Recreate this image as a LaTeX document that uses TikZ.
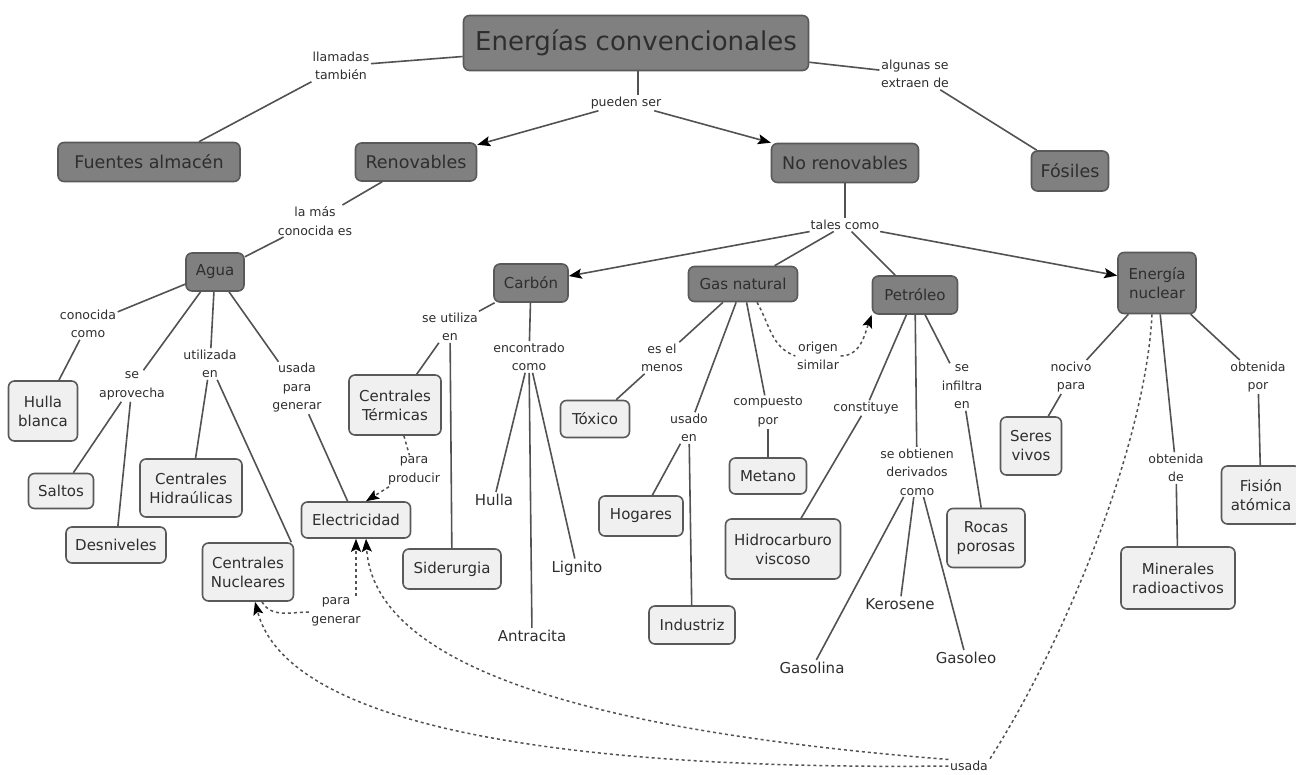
\documentclass[tikz,border=0pt]{standalone}
\usepackage{fontspec}
\setmainfont{DejaVu Sans}
\usepackage{xcolor}
\colorlet{colorDark}{black!50}
\colorlet{colorLight}{black!6}
\colorlet{colorBorder}{black!65}
\colorlet{colorText}{black!82}
\colorlet{colorLink}{black!68}
\usetikzlibrary{arrows, arrows.meta, positioning}
\tikzset{dims/.style 2 args={minimum width=#1, minimum height=#2},
concept/.style={draw=colorBorder, line width=1.6pt, rounded corners=6pt, align=center, text=colorText, inner sep=0pt},
main/.style={concept, fill=colorDark, font=\fontsize{17.5}{21}\selectfont},
sub/.style={concept, fill=colorDark, font=\fontsize{15}{19}\selectfont},
leaf/.style={concept, fill=colorLight, font=\fontsize{15}{19}\selectfont},
word/.style={text=colorText, font=\fontsize{15}{19}\selectfont, inner sep=2pt},
link/.style={text=colorText, align=center, font=\fontsize{12.5}{18.5}\selectfont, inner sep=1.5pt},
conn/.style={draw=colorLink, line width=1.6pt},
dashlink/.style={draw=colorLink, line width=1.5pt, dash pattern=on 3pt off 3pt}}

\begin{document}
\begin{tikzpicture}[x=1pt, y=-1pt, >={Stealth[length=13pt, width=10pt, inset=2.5pt, black]}]
\useasboundingbox (0,0) rectangle (1296,774);
\node[main, dims={345}{55}, font=\fontsize{26}{30}\selectfont] (energias) at (636,43) {Energías convencionales};
\node[main, dims={182}{39}] (fuentes) at (149,162) {Fuentes almacén};
\node[main, dims={121}{38}] (renov) at (416,162) {Renovables};
\node[main, dims={147}{39}] (norenov) at (845,163) {No renovables};
\node[main, dims={77}{40}] (fosiles) at (1070,171) {Fósiles};
\node[sub, dims={58}{38}] (agua) at (215,272) {Agua};
\node[sub, dims={74}{38}] (carbon) at (531,283) {Carbón};
\node[sub, dims={109}{35}] (gas) at (743,284) {Gas natural};
\node[sub, dims={85}{38}] (petroleo) at (915,295) {Petróleo};
\node[sub, dims={78}{61}] (nuclear) at (1157,283) {Energía\\nuclear};
\node[leaf, dims={69}{60}] (hullab) at (43,411) {Hulla\\blanca};
\node[leaf, dims={92}{60}] (termicas) at (395,405) {Centrales\\Térmicas};
\node[leaf, dims={69}{37}] (toxico) at (595,419) {Tóxico};
\node[leaf, dims={61}{58}] (seres) at (1031,446) {Seres\\vivos};
\node[leaf, dims={77}{36}] (metano) at (768,476) {Metano};
\node[leaf, dims={65}{35}] (saltos) at (61,491) {Saltos};
\node[leaf, dims={102}{58}] (hidraulicas) at (191,488) {Centrales\\Hidraúlicas};
\node[leaf, dims={109}{36}] (elec) at (356,520) {Electricidad};
\node[leaf, dims={84}{40}] (hogares) at (641,516) {Hogares};
\node[leaf, dims={79}{58}] (fision) at (1261,495) {Fisión\\atómica};
\node[leaf, dims={100}{36}] (desniveles) at (116,545) {Desniveles};
\node[leaf, dims={115}{60}] (hidrocarburo) at (783,549) {Hidrocarburo\\viscoso};
\node[leaf, dims={78}{59}] (rocas) at (986,538) {Rocas\\porosas};
\node[leaf, dims={91}{58}] (nucleares) at (248,572) {Centrales\\Nucleares};
\node[leaf, dims={98}{40}] (siderurgia) at (452,569) {Siderurgia};
\node[leaf, dims={114}{62}] (minerales) at (1178,578) {Minerales\\radioactivos};
\node[leaf, dims={86}{38}] (industriz) at (692,625) {Industriz};
\node[word] (hullaw) at (494,500) {Hulla};
\node[word] (lignito) at (577,568) {Lignito};
\node[word] (antracita) at (532,636) {Antracita};
\node[word] (kerosene) at (900,604) {Kerosene};
\node[word] (gasolina) at (812,668) {Gasolina};
\node[word] (gasoleo) at (966,658) {Gasoleo};
\node[link] (llamadas) at (341,66) {llamadas\\también};
\node[link] (pueden) at (626,103) {pueden ser};
\node[link] (algunas) at (915,74) {algunas se\\extraen de};
\node[link] (lamas) at (315,221) {la más\\conocida es};
\node[link] (tales) at (845,225) {tales como};
\node[link] (conocida) at (88,324) {conocida\\como};
\node[link] (aprovecha) at (132,386) {se\\aprovecha};
\node[link] (utilizada) at (210,364) {utilizada\\en};
\node[link] (usadapara) at (297,388) {usada\\para\\generar};
\node[link] (seutiliza) at (450,327) {se utiliza\\en};
\node[link] (producir) at (414,471) {para\\producir};
\node[link] (encontrado) at (529,357) {encontrado\\como};
\node[link] (esel) at (662,358) {es el\\menos};
\node[link] (usadoen) at (689,428) {usado\\en};
\node[link] (compuesto) at (768,412) {compuesto\\por};
\node[link] (origen) at (818,356) {origen\\similar};
\node[link] (constituye) at (866,408) {constituye};
\node[link] (derivados) at (917,472) {se obtienen\\derivados\\como};
\node[link] (infiltra) at (962,387) {se\\infiltra\\en};
\node[link] (nocivo) at (1071,377) {nocivo\\para};
\node[link] (obtenidade) at (1176,468) {obtenida\\de};
\node[link] (obtenidapor) at (1258,377) {obtenida\\por};
\node[link] (generar) at (336,612) {para\\generar};
\node[link] (usada) at (969,766) {usada};
\draw[conn] (energias) -- (llamadas);
\draw[conn] (llamadas) -- ([xshift=50pt]fuentes.north);
\draw[conn] (energias.south -| 638,0) -- (pueden.north -| 638,0);
\draw[conn, ->] (pueden) -- (renov);
\draw[conn, ->] (pueden) -- (norenov);
\draw[conn] (energias) -- (algunas);
\draw[conn] (algunas) -- (fosiles);
\draw[conn] (renov) -- (lamas);
\draw[conn] (lamas) -- (agua);
\draw[conn] (norenov) -- (tales);
\draw[conn, ->] (tales) -- (carbon);
\draw[conn] (tales) -- (gas);
\draw[conn] (tales) -- (petroleo);
\draw[conn, ->] (tales) -- (nuclear);
\draw[conn] (agua) -- (conocida);
\draw[conn] (conocida) -- (hullab);
\draw[conn] (agua) -- (aprovecha);
\draw[conn] (aprovecha) -- (saltos);
\draw[conn] (aprovecha) -- (desniveles);
\draw[conn] (agua) -- (utilizada);
\draw[conn] (utilizada) -- (hidraulicas);
\draw[conn] (utilizada) -- ([xshift=-3pt]nucleares.north east);
\draw[conn] (agua) -- (usadapara);
\draw[conn] (usadapara) -- (elec);
\draw[conn] (carbon) -- (seutiliza);
\draw[conn] (seutiliza) -- (termicas);
\draw[conn] (seutiliza) -- (siderurgia);
\draw[conn] (carbon) -- (encontrado);
\draw[conn] (encontrado) -- (hullaw);
\draw[conn] (encontrado) -- (antracita);
\draw[conn] (encontrado) -- (lignito);
\draw[conn] (gas) -- (esel);
\draw[conn] (esel) -- (toxico);
\draw[conn] (gas) -- (usadoen);
\draw[conn] (usadoen) -- (hogares);
\draw[conn] (usadoen) -- (industriz);
\draw[conn] (gas) -- (compuesto);
\draw[conn] (compuesto) -- (metano);
\draw[conn] (petroleo) -- (constituye);
\draw[conn] (constituye) -- (hidrocarburo);
\draw[conn] (petroleo) -- (derivados);
\draw[conn] (derivados) -- (gasolina);
\draw[conn] (derivados) -- (kerosene);
\draw[conn] (derivados) -- (gasoleo);
\draw[conn] (petroleo) -- (infiltra);
\draw[conn] (infiltra) -- (rocas);
\draw[conn] (nuclear) -- (nocivo);
\draw[conn] (nocivo) -- (seres);
\draw[conn] (nuclear) -- (obtenidade);
\draw[conn] (obtenidade) -- (minerales);
\draw[conn] (nuclear) -- (obtenidapor);
\draw[conn] (obtenidapor) -- (fision);
\draw[dashlink] ([xshift=14pt]gas.south) to[out=-60, in=160] (origen.west);
\draw[dashlink, ->] (origen.east) to[out=0, in=-110] (petroleo.south west);
\draw[dashlink] (termicas) -- (producir);
\draw[dashlink, ->] (producir) -- ([xshift=10pt]elec.north);
\draw[dashlink] ([xshift=14pt]nucleares.south) to[out=-60, in=180] (generar.west);
\draw[dashlink, ->] (generar.north -| elec.south) -- (elec.south);
\draw[dashlink] ([xshift=-5pt]nuclear.south) .. controls (1145,450) and (1060,650) .. (usada.north east);
\draw[dashlink, ->] (usada.north west) .. controls (640,735) and (375,680) .. ([xshift=10pt]elec.south);
\draw[dashlink, ->] (usada.west) .. controls (600,770) and (290,735) .. ([xshift=7pt]nucleares.south);
\end{tikzpicture}
\end{document}
